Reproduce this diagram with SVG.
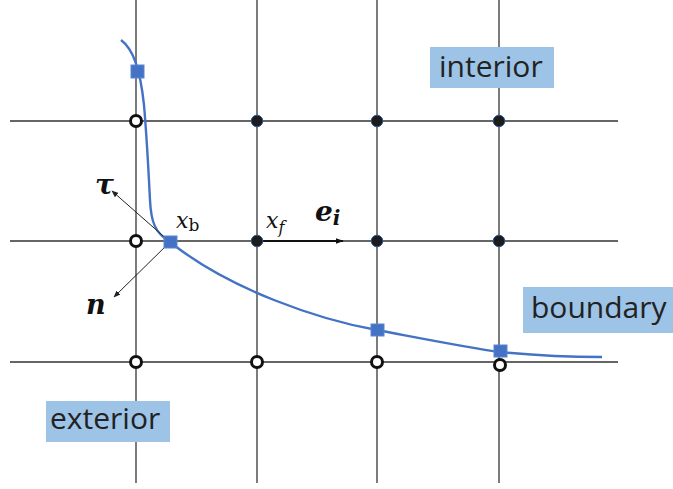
<svg xmlns="http://www.w3.org/2000/svg" width="673" height="489" viewBox="0 0 673 489">
<style>
.gh{stroke:#333;stroke-width:1.4;fill:none}
.gv{stroke:#444;stroke-width:1.4;fill:none}
.fd{fill:#1c1c1c;stroke:#2f5597;stroke-width:1}
.od{fill:#fff;stroke:#111;stroke-width:3}
.sq{fill:#4472c4;stroke:#5b86d0;stroke-width:1}
.box{fill:#9dc3e6}
.lbl{font-family:"Open Sans","Noto Sans",sans-serif;font-size:30px;fill:#222}
.math{font-family:"DejaVu Serif","Liberation Serif",serif;fill:#111}
.vec{stroke:#222;stroke-width:1;fill:none}
</style>
<defs>
<marker id="ah" viewBox="0 0 10 10" refX="9" refY="5" markerWidth="7" markerHeight="7" orient="auto" markerUnits="userSpaceOnUse"><path d="M0,1 L10,5 L0,9 z" fill="#222"/></marker>
<marker id="ah2" viewBox="0 0 10 10" refX="9" refY="5" markerWidth="8" markerHeight="8" orient="auto" markerUnits="userSpaceOnUse"><path d="M0,1.5 L10,5 L0,8.5 z" fill="#111"/></marker>
</defs>
<g id="grid">
<line class="gh" x1="10" y1="121" x2="618" y2="121"/>
<line class="gh" x1="10" y1="241" x2="618" y2="241"/>
<line class="gh" x1="10" y1="362" x2="618" y2="362"/>
<line class="gv" x1="136" y1="0" x2="136" y2="483"/>
<line class="gv" x1="257" y1="0" x2="257" y2="483"/>
<line class="gv" x1="377" y1="0" x2="377" y2="483"/>
<line class="gv" x1="499" y1="0" x2="499" y2="483"/>
</g>
<g id="boxes">
<g id="interior"><rect class="box" x="430" y="47" width="124" height="41"/><text class="lbl" x="439" y="77">interior</text></g>
<g id="boundary"><rect class="box" x="523" y="287" width="150" height="46"/><text class="lbl" x="531" y="318">boundary</text></g>
<g id="exterior"><rect class="box" x="46" y="401" width="124" height="41"/><text class="lbl" x="50" y="429">exterior</text></g>
</g>
<g id="connectors">
<path d="M121,40 C133,49 140,68 144,105 C147,140 149,180 150,200 C151,222 155,233 170,242 C230,290 320,320 377,330 C430,340 470,348 500,352 C540,356 575,357 602,357" fill="none" stroke="#4472c4" stroke-width="2.4"/>
<line class="vec" x1="170" y1="242" x2="112" y2="191" marker-end="url(#ah)"/>
<line class="vec" x1="170" y1="242" x2="114" y2="297" marker-end="url(#ah)"/>
<line x1="257" y1="241" x2="343" y2="241" stroke="#111" stroke-width="2.2" marker-end="url(#ah2)"/>
</g>
<g id="nodes">
<circle class="fd" cx="257" cy="121" r="5.8"/>
<circle class="fd" cx="377" cy="121" r="5.8"/>
<circle class="fd" cx="499" cy="121" r="5.8"/>
<circle class="fd" cx="257" cy="241" r="5.8"/>
<circle class="fd" cx="377" cy="241" r="5.8"/>
<circle class="fd" cx="499" cy="241" r="5.8"/>
<circle class="od" cx="136" cy="121" r="5.5"/>
<circle class="od" cx="136" cy="241" r="5.5"/>
<circle class="od" cx="136" cy="362" r="5.5"/>
<circle class="od" cx="257" cy="362" r="5.5"/>
<circle class="od" cx="377" cy="362" r="5.5"/>
<circle class="od" cx="500" cy="365" r="5.5"/>
<rect class="sq" x="131" y="65" width="13" height="13"/>
<rect class="sq" x="164" y="236" width="13" height="12"/>
<rect class="sq" x="371" y="324" width="13" height="12"/>
<rect class="sq" x="494" y="345" width="13" height="12"/>
</g>
<g id="labels">
<text class="math" x="95" y="194" font-size="28" font-style="italic" font-weight="bold">τ</text>
<text class="math" x="86" y="314" font-size="27" font-style="italic" font-weight="bold">n</text>
<text class="math" x="176" y="228" font-size="22" font-style="italic">x<tspan font-style="normal" font-size="17" dy="3">b</tspan></text>
<text class="math" x="266" y="228" font-size="22" font-style="italic">x<tspan font-size="16" dy="5">f</tspan></text>
<text class="math" x="315" y="221" font-size="28" font-style="italic" font-weight="bold">e<tspan font-size="20" dy="4">i</tspan></text>
</g>
</svg>
